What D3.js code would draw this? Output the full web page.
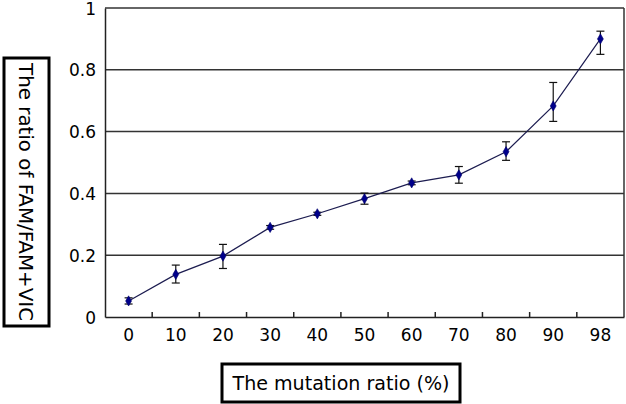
<!DOCTYPE html>
<html>
<head>
<meta charset="utf-8">
<script src="https://cdn.jsdelivr.net/npm/d3@7"></script>
<style>
  body { margin: 0; background: #fff; }
  text { font-family: "DejaVu Sans", Verdana, sans-serif; fill: #000; }
</style>
</head>
<body>
<div id="chart"></div>
<script>
// mutation ratio categories (%)
const categories = ['0', '10', '20', '30', '40', '50', '60', '70', '80', '90', '98'];
// FAM/(FAM+VIC) ratio, with error bar up / down
const ratio = [0.052, 0.138, 0.197, 0.29, 0.334, 0.383, 0.434, 0.46, 0.535, 0.683, 0.90];
const errUp = [0.010, 0.030, 0.038, 0.006, 0.005, 0.018, 0.006, 0.027, 0.032, 0.076, 0.025];
const errDown = [0.010, 0.028, 0.040, 0.006, 0.005, 0.018, 0.006, 0.027, 0.028, 0.050, 0.050];
const yTicks = [0, 0.2, 0.4, 0.6, 0.8, 1];
const yTickLabels = ['0', '0.2', '0.4', '0.6', '0.8', '1'];

const W = 626, H = 404;
const plot = {left: 105, right: 624, top: 8, bottom: 317};

const svg = d3.select('#chart').append('svg')
  .attr('width', W).attr('height', H);

const x = d3.scaleBand().domain(categories).range([plot.left, plot.right]);
const y = d3.scaleLinear().domain([0, 1]).range([plot.bottom, plot.top]);

// gridlines
svg.append('g').selectAll('line')
  .data(yTicks.filter(d => d > 0))
  .join('line')
  .attr('x1', plot.left).attr('x2', plot.right)
  .attr('y1', d => y(d)).attr('y2', d => y(d))
  .style('stroke', '#333').style('stroke-width', 1.5);

// right border
svg.append('line')
  .attr('x1', plot.right).attr('x2', plot.right)
  .attr('y1', y(1)).attr('y2', y(0))
  .style('stroke', '#333').style('stroke-width', 1.5);

// y axis
const yAxis = d3.axisLeft(y).tickValues(yTicks)
  .tickFormat((d, i) => yTickLabels[i]).tickSize(0).tickPadding(9);
const yAxisCont = svg.append('g').attr('transform', `translate(${plot.left},0)`).call(yAxis);
yAxisCont.select('.domain').style('stroke', '#222').style('stroke-width', 1.5);
yAxisCont.selectAll('text').style('font-size', '17px')
  .style('font-family', '"DejaVu Sans", Verdana, sans-serif').attr('dy', '0.36em');

// x axis
const xAxis = d3.axisBottom(x).tickSize(0).tickPadding(12);
const xAxisCont = svg.append('g').attr('transform', `translate(0,${plot.bottom})`).call(xAxis);
xAxisCont.select('.domain').style('stroke', '#222').style('stroke-width', 1.5);
xAxisCont.selectAll('text').style('font-size', '17px')
  .style('font-family', '"DejaVu Sans", Verdana, sans-serif');

// inside tick marks at category boundaries
svg.append('g').selectAll('line')
  .data(categories.slice(1))
  .join('line')
  .attr('x1', d => x(d)).attr('x2', d => x(d))
  .attr('y1', plot.bottom).attr('y2', plot.bottom - 5)
  .style('stroke', '#222').style('stroke-width', 1.5);

const cx = d => x(d) + x.bandwidth() / 2;

// error bars
const eb = svg.append('g').selectAll('g')
  .data(categories)
  .join('g');
eb.append('line')
  .attr('x1', d => cx(d)).attr('x2', d => cx(d))
  .attr('y1', (d, i) => y(ratio[i] + errUp[i]))
  .attr('y2', (d, i) => y(ratio[i] - errDown[i]))
  .style('stroke', '#111').style('stroke-width', 1.2);
eb.append('line')
  .attr('x1', d => cx(d) - 4).attr('x2', d => cx(d) + 4)
  .attr('y1', (d, i) => y(ratio[i] + errUp[i]))
  .attr('y2', (d, i) => y(ratio[i] + errUp[i]))
  .style('stroke', '#111').style('stroke-width', 1.2);
eb.append('line')
  .attr('x1', d => cx(d) - 4).attr('x2', d => cx(d) + 4)
  .attr('y1', (d, i) => y(ratio[i] - errDown[i]))
  .attr('y2', (d, i) => y(ratio[i] - errDown[i]))
  .style('stroke', '#111').style('stroke-width', 1.2);

// line
const line = d3.line()
  .x((d, i) => cx(categories[i]))
  .y(d => y(d));
svg.append('path').datum(ratio)
  .attr('d', line)
  .style('fill', 'none').style('stroke', '#1c1c50').style('stroke-width', 1.2);

// diamond markers
svg.append('g').selectAll('path')
  .data(ratio)
  .join('path')
  .attr('d', d3.symbol(d3.symbolDiamond, 30))
  .attr('transform', (d, i) => `translate(${cx(categories[i])},${y(d)})`)
  .style('fill', '#00008b').style('stroke', '#00006a').style('stroke-width', 0.6);

// y label box
const yLab = svg.append('g');
yLab.append('rect')
  .attr('x', 4).attr('y', 58).attr('width', 45).attr('height', 268)
  .style('fill', 'none').style('stroke', '#000').style('stroke-width', 3);
yLab.append('text')
  .attr('transform', 'translate(26,192) rotate(90)')
  .attr('text-anchor', 'middle').attr('dy', '0.35em')
  .attr('textLength', 258).attr('lengthAdjust', 'spacingAndGlyphs')
  .style('font-size', '19px')
  .text('The ratio of FAM/FAM+VIC');

// x label box
const xLab = svg.append('g');
xLab.append('rect')
  .attr('x', 222).attr('y', 364).attr('width', 238).attr('height', 38)
  .style('fill', 'none').style('stroke', '#000').style('stroke-width', 3);
xLab.append('text')
  .attr('x', 341).attr('y', 383)
  .attr('text-anchor', 'middle').attr('dy', '0.35em')
  .attr('textLength', 217).attr('lengthAdjust', 'spacingAndGlyphs')
  .style('font-size', '19px')
  .text('The mutation ratio (%)');
</script>
</body>
</html>
